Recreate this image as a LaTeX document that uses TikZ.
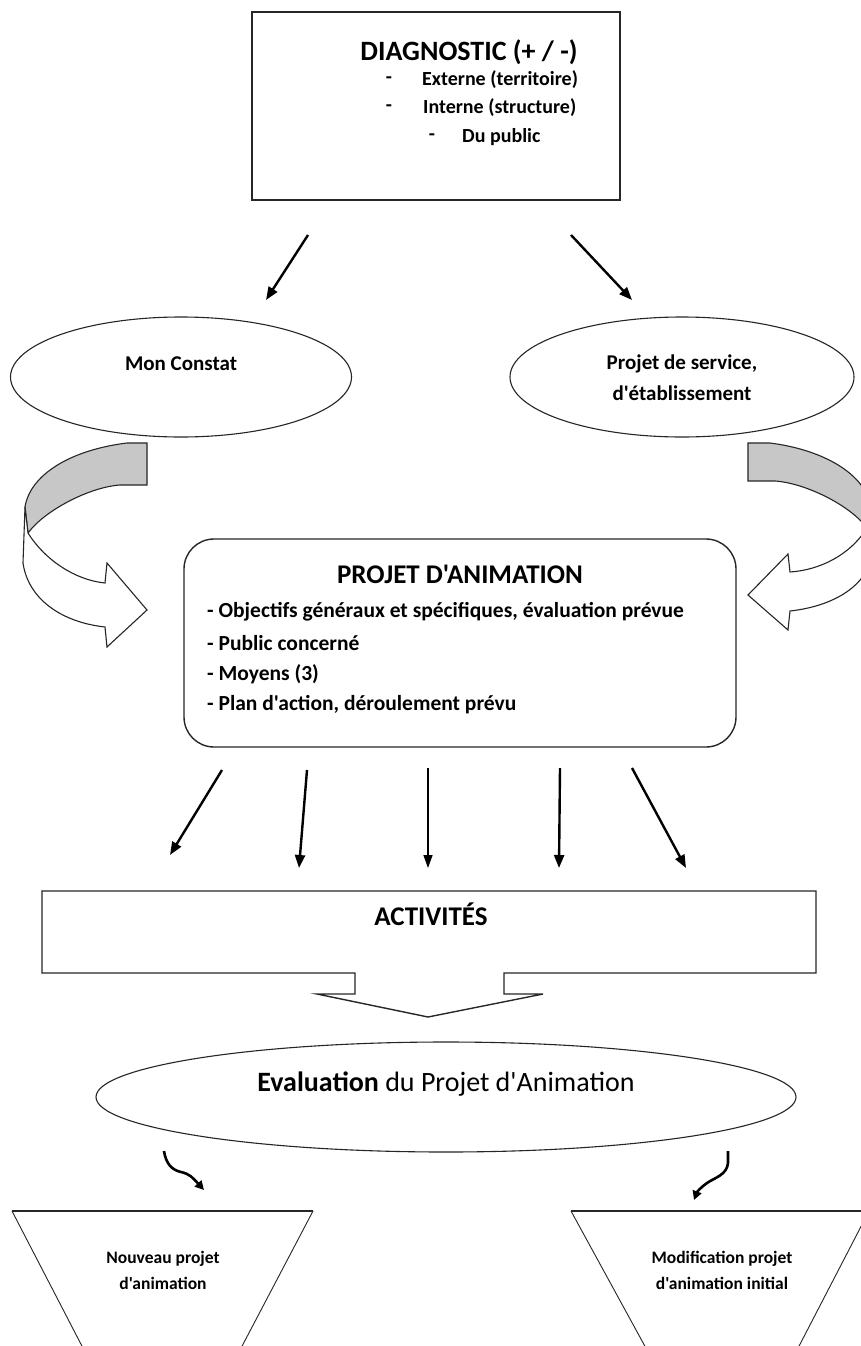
\documentclass[tikz,border=0pt]{standalone}
\usepackage{fontspec}
\setmainfont{Carlito}[Ligatures=TeXOff]
\usetikzlibrary{arrows.meta,shapes.geometric}
\begin{document}
\begin{tikzpicture}[x=1pt,y=-1pt,
  boxln/.style={draw=black!85, line width=1.4pt},
  thinln/.style={draw=black!85, line width=1.1pt},
  arr/.style={draw=black, line width=2.4pt, -{Triangle[length=13pt,width=10pt]}},
  arrthin/.style={draw=black, line width=1.4pt, -{Triangle[length=13pt,width=9pt]}},
  curly/.style={draw=black, line width=2.6pt, -{Triangle[length=9pt,width=9pt]}},
  tb/.style={font=\fontsize{#1}{#1}\selectfont\bfseries, inner sep=0pt},
  tr/.style={font=\fontsize{#1}{#1}\selectfont, inner sep=0pt},
  ribbongray/.style={fill=black!22, draw=black!85, line width=1.1pt},
  ribbonwhite/.style={fill=white, draw=black!85, line width=1.1pt}]
\useasboundingbox (0,0) rectangle (861,1346);
\fill[white] (0,0) rectangle (861,1346);

% Top box
\node[boxln, rectangle, minimum width=368pt, minimum height=188pt, inner sep=0pt] (diag) at (436,106) {};
\node[tb=28] (diagt) at (469,52) {DIAGNOSTIC (+ / -)};
\node[tb=20] (d1) at (389,80) {-};
\node[tb=20, anchor=west] (ext) at (422,80) {Externe (territoire)};
\node[tb=20] (d2) at (389,108) {-};
\node[tb=20, anchor=west] (int) at (423,108) {Interne (structure)};
\node[tb=20] (d3) at (432,137) {-};
\node[tb=20, anchor=west] (pub) at (462,137) {Du public};

% arrows to ellipses
\coordinate (a1s) at (308,235); \coordinate (a1e) at (266,300);
\coordinate (a2s) at (571,235); \coordinate (a2e) at (632,300);
\draw[arr] (a1s) -- (a1e);
\draw[arr] (a2s) -- (a2e);

% ellipses
\node[thinln, ellipse, minimum width=341pt, minimum height=120pt, inner sep=0pt] (constat) at (181,377) {};
\node[tb=21] (constatt) at (181,364) {Mon Constat};
\node[thinln, ellipse, minimum width=344pt, minimum height=120pt, inner sep=0pt] (service) at (682,377) {};
\node[tb=21] (service1) at (682,364) {Projet de service,};
\node[tb=21] (service2) at (682,393) {d'établissement};

% left ribbon arrow
\path[ribbongray] (147,443) -- (127,443) .. controls (70,450) and (30,475) .. (25,507) -- (28,533) .. controls (45,510) and (90,487) .. (120,485) -- (147,485) -- cycle;
\path[ribbonwhite] (28,533) .. controls (45,560) and (75,580) .. (105,583) -- (107,563) -- (147,610) -- (107,647) -- (105,627) .. controls (60,622) and (28,598) .. (23,563) -- (25,507) -- cycle;
% right ribbon arrow
\path[ribbongray] (748,443) -- (770,443) .. controls (825,450) and (865,475) .. (870,505) -- (867,528) .. controls (850,505) and (805,483) .. (775,481) -- (748,481) -- cycle;
\path[ribbonwhite] (867,528) .. controls (850,555) and (820,570) .. (790,572) -- (788,554) -- (748,595) -- (788,630) -- (790,611) .. controls (835,606) and (867,585) .. (872,555) -- (870,505) -- cycle;

% Projet d'animation
\node[boxln, rectangle, rounded corners=30pt, minimum width=552pt, minimum height=208pt, inner sep=0pt] (pa) at (460,643) {};
\node[tb=27] (pat) at (460,574) {PROJET D'ANIMATION};
\node[tb=21.5, anchor=west] (pa1) at (207,612) {- Objectifs généraux et spécifiques, évaluation prévue};
\node[tb=21.5, anchor=west] (pa2) at (207,643) {- Public concerné};
\node[tb=21.5, anchor=west] (pa3) at (207,674) {- Moyens (3)};
\node[tb=21.5, anchor=west] (pa4) at (207,705) {- Plan d'action, déroulement prévu};

% five arrows
\coordinate (b1s) at (222,770); \coordinate (b1e) at (170,855);
\coordinate (b2s) at (307,770); \coordinate (b2e) at (299,868);
\coordinate (b3s) at (428,768); \coordinate (b3e) at (428,868);
\coordinate (b4s) at (560,768); \coordinate (b4e) at (559,868);
\coordinate (b5s) at (632,768); \coordinate (b5e) at (686,868);
\draw[arr] (b1s) -- (b1e);
\draw[arr] (b2s) -- (b2e);
\draw[arrthin] (b3s) -- (b3e);
\draw[arr] (b4s) -- (b4e);
\draw[arr] (b5s) -- (b5e);

% Activites with chevron
\path[boxln] (42,891) -- (816,891) -- (816,973) -- (504,973) -- (504,994) -- (543,994) -- (428,1017) -- (317,994) -- (355,994) -- (355,973) -- (42,973) -- cycle;
\node[tb=27] (act) at (431,914) {ACTIVITÉS};

% Evaluation
\node[thinln, ellipse, minimum width=700pt, minimum height=110pt, inner sep=0pt] (eval) at (446,1097) {};
\node[tr=28] (evalt) at (446,1084) {\textbf{Evaluation} du Projet d'Animation};

% curly arrows
\coordinate (c1s) at (164,1151); \coordinate (c1e) at (204,1190);
\coordinate (c2s) at (728,1151); \coordinate (c2e) at (694,1200);
\draw[curly] (c1s) .. controls (166,1164) and (172,1170) .. (181,1172) .. controls (190,1174) and (193,1178) .. (c1e);
\draw[curly] (c2s) -- (728,1163) .. controls (727,1175) and (714,1178) .. (707,1183) .. controls (700,1188) and (697,1192) .. (c2e);

% trapezoids
\draw[thinln, line width=0.9pt] (12,1211) -- (84,1350);
\draw[thinln, line width=0.9pt] (313,1211) -- (240,1350);
\draw[boxln] (12,1211) -- (313,1211);
\node[tb=17.5] (nv1) at (163,1259) {Nouveau projet};
\node[tb=17.5] (nv2) at (163,1283) {d'animation};

\draw[thinln, line width=0.9pt] (571,1211) -- (647,1350);
\draw[thinln, line width=0.9pt] (869,1211) -- (797,1350);
\draw[boxln] (571,1211) -- (869,1211);
\node[tb=17.5] (md1) at (722,1259) {Modification projet};
\node[tb=17.5] (md2) at (722,1283) {d'animation initial};
\end{tikzpicture}
\end{document}
